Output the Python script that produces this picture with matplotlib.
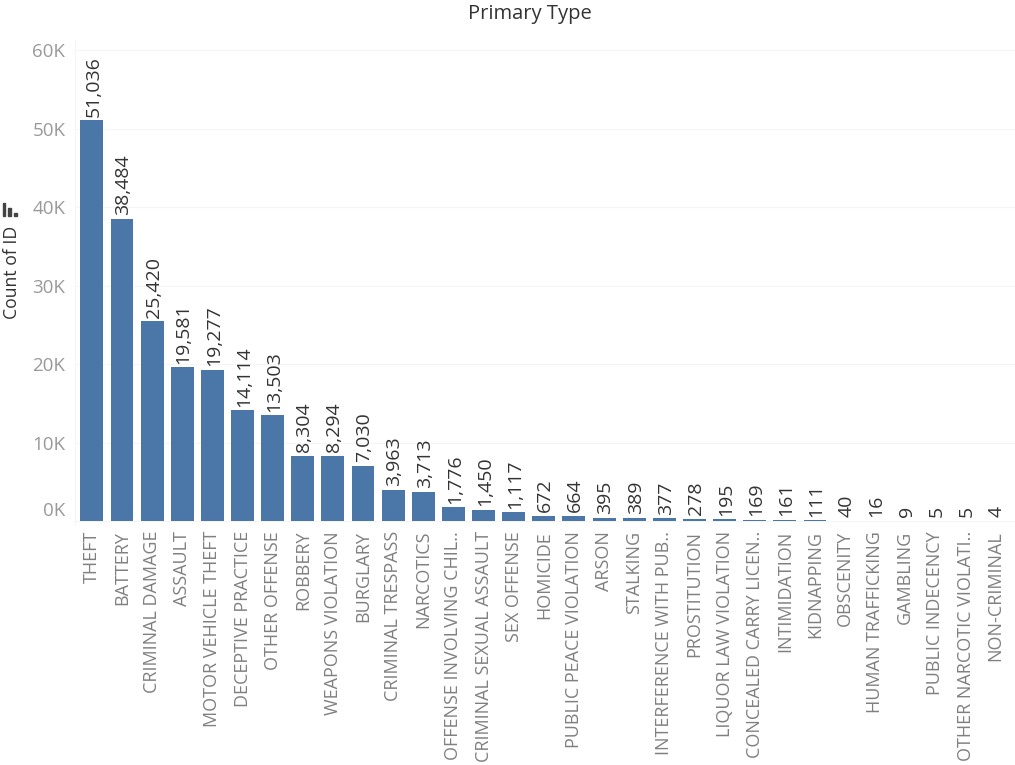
import matplotlib
matplotlib.use("Agg")
import matplotlib.pyplot as plt
from matplotlib.patches import Rectangle
from matplotlib.transforms import ScaledTranslation

# Values
crime_types = ["THEFT", "BATTERY", "CRIMINAL DAMAGE", "ASSAULT", "MOTOR VEHICLE THEFT",
               "DECEPTIVE PRACTICE", "OTHER OFFENSE", "ROBBERY", "WEAPONS VIOLATION",
               "BURGLARY", "CRIMINAL TRESPASS", "NARCOTICS", "OFFENSE INVOLVING CHIL..",
               "CRIMINAL SEXUAL ASSAULT", "SEX OFFENSE", "HOMICIDE", "PUBLIC PEACE VIOLATION",
               "ARSON", "STALKING", "INTERFERENCE WITH PUB..", "PROSTITUTION",
               "LIQUOR LAW VIOLATION", "CONCEALED CARRY LICEN..", "INTIMIDATION",
               "KIDNAPPING", "OBSCENITY", "HUMAN TRAFFICKING", "GAMBLING",
               "PUBLIC INDECENCY", "OTHER NARCOTIC VIOLATI..", "NON-CRIMINAL"]
counts = [51036, 38484, 25420, 19581, 19277, 14114, 13503, 8304, 8294, 7030, 3963,
          3713, 1776, 1450, 1117, 672, 664, 395, 389, 377, 278, 195, 169, 161, 111,
          40, 16, 9, 5, 5, 4]
y_ticks = [0, 10000, 20000, 30000, 40000, 50000, 60000]
y_tick_labels = ["0K", "10K", "20K", "30K", "40K", "50K", "60K"]

plt.rcParams["font.family"] = ["Open Sans", "DejaVu Sans"]

fig = plt.figure(figsize=(10.15, 7.65), dpi=100)
ax = fig.add_axes([75 / 1015, 1 - 524 / 765, 940 / 1015, 484 / 765])

positions = list(range(len(counts)))
ax.bar(positions, counts, width=0.76, color="#4a76a8")

# Value labels sit above the bars, rotated like the axis labels
for pos, count in zip(positions, counts):
    ax.annotate(f"{count:,}", (pos, count), xytext=(1, 2.5), textcoords="offset points",
                rotation=90, ha="center", va="bottom", fontsize=14, color="#333333")

ax.set_xlim(-0.56, 30.64)
ax.set_ylim(-382, 61274)
ax.set_xticks(positions)
ax.set_xticklabels(crime_types, rotation=90, fontsize=13, color="#808080")
ax.set_yticks(y_ticks)
ax.set_yticklabels(y_tick_labels, fontsize=13.5, color="#999999")
ax.tick_params(length=0)
ax.tick_params(axis="x", pad=5)
ax.tick_params(axis="y", pad=7)
ax.grid(axis="y", color="#f5f5f5", linewidth=0.8)
ax.grid(axis="x", visible=False)
ax.set_axisbelow(True)
for side in ["top", "right", "bottom"]:
    ax.spines[side].set_visible(False)
ax.spines["left"].set_color("#f5f5f5")

# The 0K label is pushed up off the baseline
zero_label = ax.get_yticklabels()[0]
zero_label.set_transform(zero_label.get_transform()
                         + ScaledTranslation(0, 12 / 100, fig.dpi_scale_trans))

# Header and axis title live outside the plot area
fig.text(530 / 1015, 1 - 14 / 765, "Primary Type", ha="center", va="center",
         fontsize=14.5, color="#333333")
fig.text(12 / 1015, 1 - 272 / 765, "Count of ID", ha="center", va="center",
         rotation=90, fontsize=12.7, color="#333333")

# Small sort icon above the axis title
for x, y, w, h in [(3, 203, 2, 13), (8, 208, 2.5, 8), (14, 213, 2.5, 3)]:
    fig.add_artist(Rectangle((x / 1015, 1 - (y + h) / 765), w / 1015, h / 765,
                             transform=fig.transFigure, color="#444444"))

fig.savefig("out.png", dpi=100)
